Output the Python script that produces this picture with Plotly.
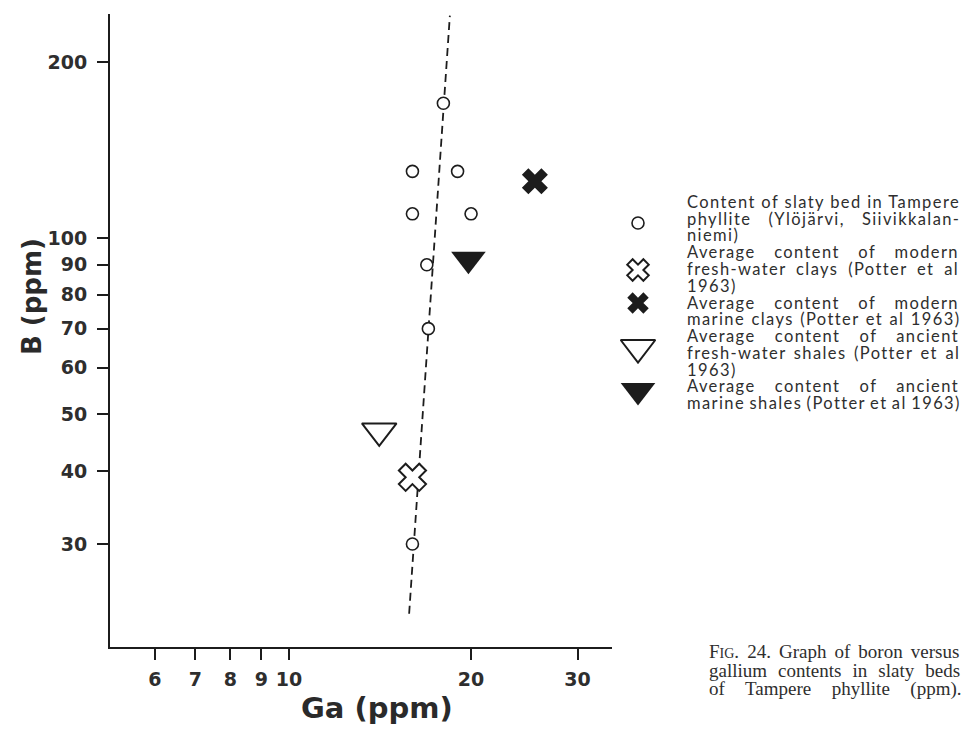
import plotly.graph_objects as go
import math

W, H = 964, 731

# ---------------- data (ppm) ----------------
slaty_ga = [18.0, 16.0, 19.0, 16.0, 20.0, 16.9, 17.0, 16.0]
slaty_b = [170, 130, 130, 110, 110, 90, 70, 30]
fw_clay_ga = [16.0]
fw_clay_b = [39]
mar_clay_ga = [25.5]
mar_clay_b = [125]
fw_shale_ga = [14.1]
fw_shale_b = [46.8]
mar_shale_ga = [19.8]
mar_shale_b = [92]
trend_ga = [15.8, 18.45]
trend_b = [22.8, 240]

x_ticks = [6, 7, 8, 9, 10, 20, 30]
y_ticks = [30, 40, 50, 60, 70, 80, 90, 100, 200]

legend_lines = [
    ("Content of slaty bed in Tampere", 0),
    ("phyllite (Ylöjärvi, Siivikkalan-", 11.5),
    ("niemi)", 0),
    ("Average content of modern", 13),
    ("fresh-water clays (Potter et al", 4.2),
    ("1963)", 0),
    ("Average content of modern", 13),
    ("marine clays (Potter et al 1963)", 0.8),
    ("Average content of ancient", 13.6),
    ("fresh-water shales (Potter et al", 1.9),
    ("1963)", 0),
    ("Average content of ancient", 13.6),
    ("marine shales (Potter et al 1963)", -1.2),
]
caption_lines = [
    ("F<span style='font-size:14px'>IG</span>. 24. Graph of boron versus", 3.3),
    ("gallium contents in slaty beds", 6.3),
    ("of Tampere phyllite (ppm).", 15.8),
]

INK = "#1c1c1c"
TXT = "#2e2e2e"

# plot area in pixels
L, R, T, B = 110, 612, 14, 647

fig = go.Figure()

fig.add_trace(go.Scatter(x=trend_ga, y=trend_b, mode="lines",
                         line=dict(color=INK, width=1.8, dash="8px,5px"),
                         showlegend=False, hoverinfo="skip"))
fig.add_trace(go.Scatter(x=slaty_ga, y=slaty_b, mode="markers",
                         marker=dict(symbol="circle", size=12, color="white",
                                     line=dict(color=INK, width=1.6)),
                         showlegend=False))
fig.add_trace(go.Scatter(x=fw_clay_ga, y=fw_clay_b, mode="markers",
                         marker=dict(symbol="x", size=24, color="white",
                                     line=dict(color=INK, width=2)),
                         showlegend=False))
fig.add_trace(go.Scatter(x=mar_clay_ga, y=mar_clay_b, mode="markers",
                         marker=dict(symbol="x", size=23, color=INK,
                                     line=dict(color=INK, width=0)),
                         showlegend=False))
fig.add_trace(go.Scatter(x=fw_shale_ga, y=fw_shale_b, mode="markers",
                         marker=dict(symbol="triangle-down", size=30, color="white",
                                     line=dict(color=INK, width=2)),
                         showlegend=False))
fig.add_trace(go.Scatter(x=mar_shale_ga, y=mar_shale_b, mode="markers",
                         marker=dict(symbol="triangle-down", size=30, color=INK,
                                     line=dict(color=INK, width=0)),
                         showlegend=False))

# ---- legend keys on an auxiliary pixel-space axis ----
key_x = 638
key_specs = [
    (223, "circle", 12, "white", 1.6),
    (270, "x", 19, "white", 2),
    (303, "x", 19, INK, 0),
    (347.5, "triangle-down", 30, "white", 2),
    (390.5, "triangle-down", 30, INK, 0),
]
for ky, sym, sz, fill, lw in key_specs:
    fig.add_trace(go.Scatter(x=[key_x], y=[ky], xaxis="x2", yaxis="y2",
                             mode="markers",
                             marker=dict(symbol=sym, size=sz, color=fill,
                                         line=dict(color=INK, width=lw)),
                             showlegend=False, hoverinfo="skip"))

annotations = []
# legend text: one block, line pitch 16.75 px (= 1.3 * base size)
lstep = 16.75
legend_html = "<br>".join(
    f"<span style='font-size:16.5px;letter-spacing:1.4px;word-spacing:{ws}px'>{txt}</span>"
    for txt, ws in legend_lines)
annotations.append(dict(x=685 / W, y=1 - (201.7 + 6 * lstep) / H, xref="paper", yref="paper",
                        xanchor="left", yanchor="middle", align="left", showarrow=False,
                        text=legend_html,
                        font=dict(family="Lato", size=lstep / 1.3, color=TXT)))
# caption: one block, line pitch 18.5 px
cstep = 18.5
caption_html = "<br>".join(
    f"<span style='font-size:19px;word-spacing:{ws}px'>{txt}</span>"
    for txt, ws in caption_lines)
annotations.append(dict(x=707 / W, y=1 - (652 + cstep) / H, xref="paper", yref="paper",
                        xanchor="left", yanchor="middle", align="left", showarrow=False,
                        text=caption_html,
                        font=dict(family="Liberation Serif", size=cstep / 1.3, color=TXT)))
# axis titles
annotations.append(dict(x=377 / W, y=1 - 708 / H, xref="paper", yref="paper",
                        xanchor="center", yanchor="middle", showarrow=False,
                        text="<b>Ga (ppm)</b>",
                        font=dict(family="DejaVu Sans", size=29, color="#2a2a2a")))
annotations.append(dict(x=32 / W, y=1 - 297 / H, xref="paper", yref="paper",
                        xanchor="center", yanchor="middle", showarrow=False, textangle=-90,
                        text="<b>B (ppm)</b>",
                        font=dict(family="DejaVu Sans", size=26, color="#2a2a2a")))

axis_common = dict(showline=True, linewidth=2, linecolor=INK, ticks="outside",
                   ticklen=11, tickwidth=2, tickcolor=INK, showgrid=False, zeroline=False,
                   tickfont=dict(family="DejaVu Sans", size=19, color=TXT, weight="bold"),
                   mirror=False)

fig.update_layout(
    width=W, height=H,
    margin=dict(l=0, r=0, t=0, b=0),
    paper_bgcolor="white", plot_bgcolor="rgba(0,0,0,0)",
    showlegend=False,
    xaxis=dict(type="log", range=[math.log10(5.06), math.log10(34.2)],
               domain=[L / W, R / W], anchor="y", ticklabelstandoff=3,
               tickvals=x_ticks, ticktext=[str(v) for v in x_ticks], **axis_common),
    yaxis=dict(type="log", range=[math.log10(20.0), math.log10(241.5)],
               domain=[1 - B / H, 1 - T / H], anchor="x", ticklabelstandoff=6,
               tickvals=y_ticks, ticktext=[str(v) for v in y_ticks], **axis_common),
    xaxis2=dict(domain=[0, 1], range=[0, W], visible=False, anchor="y2", fixedrange=True),
    yaxis2=dict(domain=[0, 1], range=[H, 0], visible=False, anchor="x2", fixedrange=True),
    annotations=annotations,
)

fig.write_html("out.html")
